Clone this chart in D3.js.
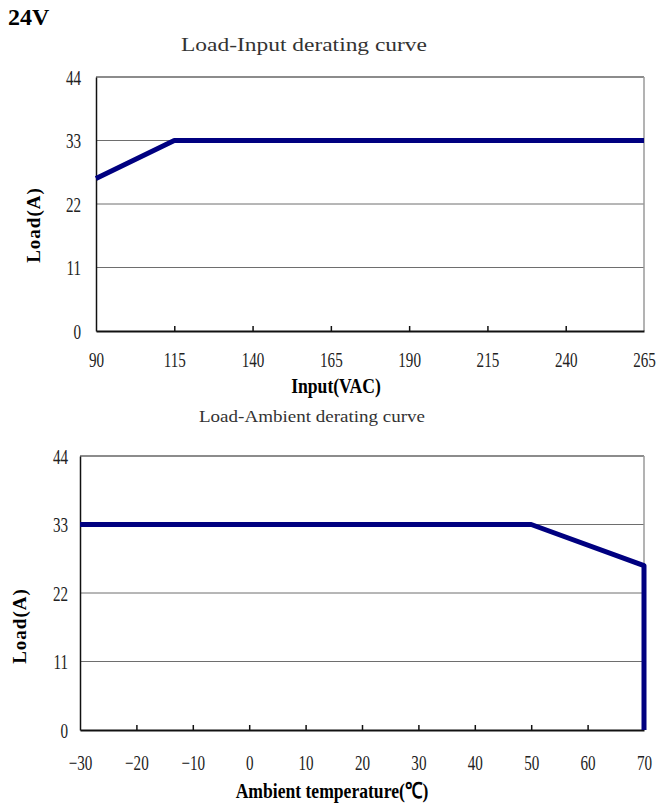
<!DOCTYPE html>
<html><head><meta charset="utf-8">
<script src="https://cdn.jsdelivr.net/npm/d3@7"></script>
<style>body{margin:0;background:#fff}svg{display:block}</style>
</head><body>
<svg id="c" width="664" height="803"></svg>
<script>
const loadTicks = [0, 11, 22, 33, 44];
const inputTicks = [90, 115, 140, 165, 190, 215, 240, 265];
const inputVAC = [90, 115, 265];
const inputLoad = [26.4, 33, 33];
const ambientTicks = [-30, -20, -10, 0, 10, 20, 30, 40, 50, 60, 70];
const ambientTemp = [-30, 50, 70, 70];
const ambientLoad = [33, 33, 26.4, 0];

const svg = d3.select("#c");
const serif = "'Liberation Serif','Times New Roman',serif";
const SX = 0.72;

svg.append("text").attr("x", 8).attr("y", 25).text("24V")
  .attr("font-family", serif).attr("font-weight", "bold").attr("font-size", 24).attr("fill", "#000");

function panel(o) {
  const x = d3.scaleLinear().domain(o.xDomain).range([o.left, o.right]);
  const y = d3.scaleLinear().domain([0, 44]).range([o.bottom, o.top]);
  const g = svg.append("g");

  // title
  g.append("text").attr("x", o.titleX).attr("y", o.titleY).text(o.title)
    .attr("font-family", serif).attr("font-size", o.titleSize).attr("fill", "#333")
    .attr("text-anchor", "middle").attr("textLength", o.titleLen).attr("lengthAdjust", "spacingAndGlyphs");

  // gridlines
  g.append("g").selectAll("line").data(loadTicks.filter(v => v > 0 && v < 44)).join("line")
    .attr("x1", o.left).attr("x2", o.right).attr("y1", d => y(d)).attr("y2", d => y(d))
    .attr("stroke", "#6e6e6e").attr("stroke-width", 1);
  // top border & right border
  g.append("line").attr("x1", o.left).attr("x2", o.right).attr("y1", y(44)).attr("y2", y(44))
    .attr("stroke", "#666").attr("stroke-width", 1.5);
  g.append("line").attr("x1", o.right).attr("x2", o.right).attr("y1", y(44)).attr("y2", y(0))
    .attr("stroke", "#9a9a9a").attr("stroke-width", 1.5);

  // y axis
  const ya = d3.axisLeft(y).tickValues(loadTicks).tickSize(0).tickPadding(o.yPad);
  const yg = g.append("g").attr("transform", `translate(${o.left},0)`).call(ya);
  yg.select(".domain").attr("stroke", "#111").attr("stroke-width", 1.5);
  yg.selectAll("text").attr("font-family", serif).attr("font-size", 21).attr("fill", "#222")
    .attr("transform", `scale(${SX},1)`).attr("dy", "0.34em")
    .attr("x", -o.yPad / SX);

  // x axis
  const xa = d3.axisBottom(x).tickValues(o.xTicks).tickSize(0).tickPadding(o.xPad).tickFormat(d3.format("d"));
  const xg = g.append("g").attr("transform", `translate(0,${o.bottom})`).call(xa);
  xg.select(".domain").attr("stroke", "#111").attr("stroke-width", 2);
  xg.selectAll("text").attr("font-family", serif).attr("font-size", 21).attr("fill", "#222")
    .attr("transform", `scale(${SX},1)`);
  xg.selectAll(".tick").filter((d, i, n) => i > 0 && i < n.length - 1)
    .append("line").attr("y1", 0).attr("y2", -5).attr("stroke", "#111").attr("stroke-width", 1.5);

  // line
  const line = d3.line().x(d => x(d[0])).y(d => y(d[1]));
  g.append("path").datum(o.xs.map((v, i) => [v, o.ys[i]]))
    .attr("d", line).attr("fill", "none").attr("stroke", "#000080").attr("stroke-width", 5)
    .attr("stroke-linejoin", "round");

  // axis labels
  g.append("text").text(o.xLabel).attr("x", 0).attr("y", 0)
    .attr("transform", `translate(${o.xLabelX},${o.xLabelY}) scale(0.8,1)`)
    .attr("text-anchor", "middle").attr("font-family", serif).attr("font-weight", "bold")
    .attr("font-size", o.xLabelSize).attr("fill", "#000");
  g.append("text").text("Load(A)").attr("x", 0).attr("y", 0)
    .attr("transform", `translate(${o.yLabelX},${o.yLabelY}) rotate(-90)`)
    .attr("text-anchor", "middle").attr("font-family", serif).attr("font-weight", "bold")
    .attr("font-size", 19).attr("letter-spacing", 1).attr("fill", "#000");
}

panel({
  xDomain: [90, 265], left: 96, right: 644, top: 77, bottom: 331,
  xTicks: inputTicks, xs: inputVAC, ys: inputLoad,
  title: "Load-Input derating curve", titleX: 304, titleY: 51, titleSize: 19, titleLen: 246,
  xLabel: "Input(VAC)", xLabelX: 336, xLabelY: 393, xLabelSize: 22,
  yLabelX: 40, yLabelY: 225, yPad: 15, xPad: 21
});

panel({
  xDomain: [-30, 70], left: 80, right: 644, top: 456, bottom: 730,
  xTicks: ambientTicks, xs: ambientTemp, ys: ambientLoad,
  title: "Load-Ambient derating curve", titleX: 312, titleY: 422, titleSize: 17, titleLen: 226,
  xLabel: "Ambient temperature(℃)", xLabelX: 332, xLabelY: 798, xLabelSize: 22,
  yLabelX: 26, yLabelY: 626, yPad: 12, xPad: 25
});
</script>
</body></html>
